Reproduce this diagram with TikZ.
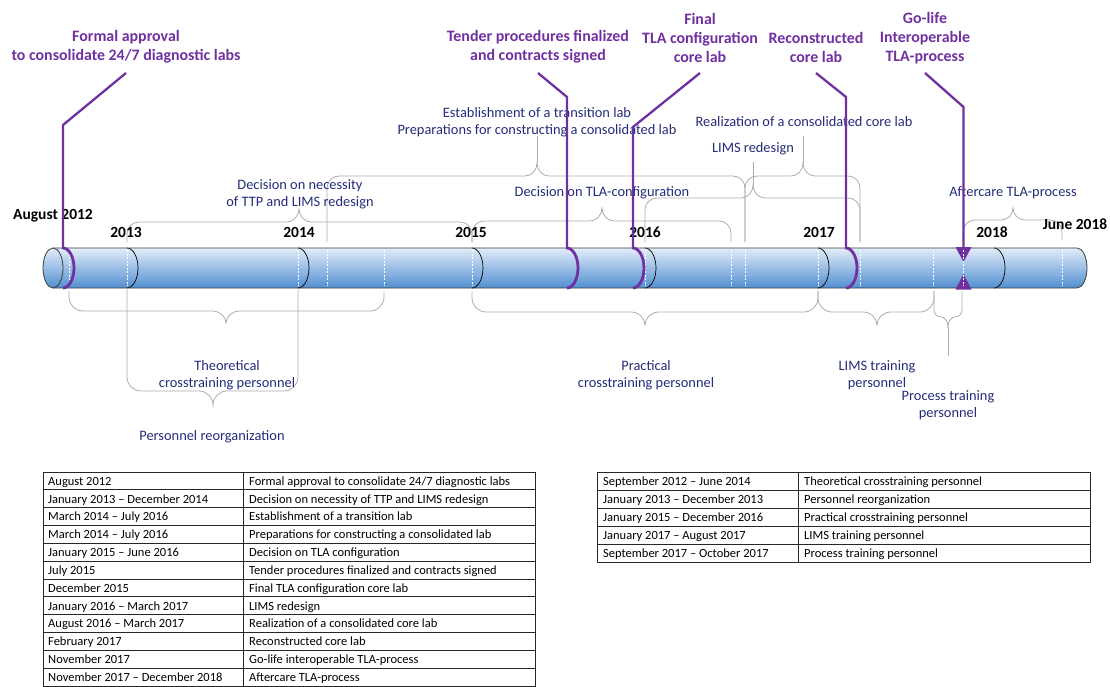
\documentclass[tikz,border=0pt]{standalone}
\usepackage{fontspec}
\setmainfont{Carlito}
\definecolor{purp}{RGB}{112,48,160}
\definecolor{navy}{RGB}{36,44,120}
\definecolor{brgray}{RGB}{172,172,172}
\definecolor{cylTop}{RGB}{226,237,249}
\definecolor{cylMid}{RGB}{122,172,224}
\definecolor{cylBot}{RGB}{82,143,209}
\definecolor{edge}{RGB}{60,60,60}
\newcommand{\gbrace}[8]{%
 \draw[brc] (#1,#4) -- (#1,{#5+(#8)*#7}) .. controls (#1,{#5+(#8)*0.448*#7}) and ({#1+0.448*#7},#5) .. ({#1+#7},#5)
 -- ({#3-#7},#5) .. controls ({#3-0.448*#7},#5) and (#3,{#6+0.552*(#5-#6)}) .. (#3,#6)
 .. controls (#3,{#6+0.552*(#5-#6)}) and ({#3+0.448*#7},#5) .. ({#3+#7},#5)
 -- ({#2-#7},#5) .. controls ({#2-0.448*#7},#5) and (#2,{#5+(#8)*0.448*#7}) .. (#2,{#5+(#8)*#7}) -- (#2,#4);}
\newcommand{\cylarc}[2]{%
 \draw[#2] (#1,248) .. controls ({#1+6},248) and ({#1+11},257) .. ({#1+11},268) .. controls ({#1+11},279) and ({#1+6},288) .. (#1,288);}
\begin{document}
\begin{tikzpicture}[x=1pt,y=-1pt,
 brc/.style={draw=brgray, line width=0.8pt},
 mile/.style={font=\fontsize{15.9}{19}\selectfont\bfseries, text=purp, align=center, inner sep=0pt},
 lab/.style={font=\fontsize{14.4}{17}\selectfont, text=navy, align=center, inner sep=0pt},
 yr/.style={font=\fontsize{15.5}{18}\selectfont\bfseries, text=black, inner sep=0pt},
 pline/.style={draw=purp, line width=2.3pt},
 parc/.style={draw=purp, line width=2.8pt},
 yarc/.style={draw=black, line width=0.7pt},
 wdash/.style={draw=white, line width=0.7pt, dash pattern=on 2pt off 1.5pt},
 tcell/.style={font=\fontsize{12.5}{14}\selectfont, anchor=base west, inner sep=0pt},
 tline/.style={draw=black!85, line width=0.7pt}
]
\useasboundingbox (0,0) rectangle (1110,687);

% ---------- braces above the cylinder ----------
\gbrace{127}{472}{299}{242}{222}{208}{12}{1}
\gbrace{472}{731}{602}{242}{221}{208}{12}{1}
\gbrace{327}{745}{537}{242}{176}{163}{12}{1}
\draw[brc] (537,163) -- (537,136);
\gbrace{745}{860}{803}{242}{176}{163}{12}{1}
\draw[brc] (803,163) -- (803,136);
\gbrace{645}{860}{753}{242}{198}{185}{12}{1}
\draw[brc] (753,185) -- (753,162);
\gbrace{963}{1062}{1013}{240}{220}{208}{12}{1}

% ---------- braces below the cylinder ----------
\gbrace{69}{384}{226}{291}{311}{323}{14}{-1}
\gbrace{127}{298}{213}{290}{391}{405}{14}{-1}
\gbrace{472}{818}{645}{291}{312}{325}{14}{-1}
\gbrace{818}{934}{877}{291}{312}{325}{14}{-1}
\gbrace{934}{962}{948}{291}{317}{327}{7}{-1}
\draw[brc] (948,327) -- (948,356);

% ---------- cylinder ----------
\shade[top color=cylTop, middle color=cylMid, bottom color=cylBot]
 (53,248) -- (1077,248) .. controls (1082.5,248) and (1087,257) .. (1087,268)
 .. controls (1087,279) and (1082.5,288) .. (1077,288) -- (53,288) -- cycle;
\shade[top color=cylTop, middle color=cylMid, bottom color=cylBot]
 (53,268) ellipse [x radius=10pt, y radius=20pt];
\foreach \x in {69,127,298,327,384,472,645,731,745,818,860,933,963,1062}
 \draw[wdash] (\x,250) -- (\x,286);
\foreach \x in {127,298,472,645,818,994} {\cylarc{\x}{yarc}}
\draw[draw=edge, line width=0.8pt] (53,248) -- (1077,248) .. controls (1082.5,248) and (1087,257) .. (1087,268)
 .. controls (1087,279) and (1082.5,288) .. (1077,288) -- (53,288);
\draw[draw=edge, line width=0.8pt] (53,268) ellipse [x radius=10pt, y radius=20pt];

% ---------- year labels ----------
\node[yr] (y12) at (53,216) {August 2012};
\node[yr] (y13) at (126,232) {2013};
\node[yr] (y14) at (299,232) {2014};
\node[yr] (y15) at (471,232) {2015};
\node[yr] (y16) at (645,232) {2016};
\node[yr] (y17) at (819,232) {2017};
\node[yr] (y18) at (992,232) {2018};
\node[yr] (y18b) at (1075,224) {June 2018};

% ---------- navy labels ----------
\node[lab] (l1) at (300,194) {Decision on necessity\\of TTP and LIMS redesign};
\node[lab] (l2) at (602,193) {Decision on TLA-configuration};
\node[lab] (l3) at (537,122) {Establishment of a transition lab\\Preparations for constructing a consolidated lab};
\node[lab] (l4) at (804,122) {Realization of a consolidated core lab};
\node[lab] (l5) at (753,149) {LIMS redesign};
\node[lab] (l6) at (1013,193) {Aftercare TLA-process};
\node[lab] (l7) at (227,375) {Theoretical\\crosstraining personnel};
\node[lab] (l8) at (212,437) {Personnel reorganization};
\node[lab] (l9) at (646,375) {Practical\\crosstraining personnel};
\node[lab] (l10) at (877,375) {LIMS training\\personnel};
\node[lab] (l11) at (948,405) {Process training\\personnel};

% ---------- milestones ----------
\node[mile] (m1) at (126,47) {Formal approval\\to consolidate 24/7 diagnostic labs};
\node[mile] (m2) at (538,47) {Tender procedures finalized\\and contracts signed};
\node[mile] (m3) at (700,38) {Final\\TLA configuration\\core lab};
\node[mile] (m4) at (816,47) {Reconstructed\\core lab};
\node[mile] (m5) at (925,38) {Go-life\\Interoperable\\TLA-process};
\coordinate (p1) at (126,73);
\coordinate (p2) at (538,73);
\coordinate (p3) at (700,73);
\coordinate (p4) at (816,73);
\coordinate (p5) at (925,73);
\coordinate (q1) at (63,249);
\coordinate (q2) at (567,249);
\coordinate (q3) at (633,249);
\coordinate (q4) at (846,249);
\coordinate (q5) at (963.5,249);
\draw[pline] (p1) -- (63,125) -- (q1);
\draw[pline] (p2) -- (567,97) -- (q2);
\draw[pline] (p3) -- (633,127) -- (q3);
\draw[pline] (p4) -- (846,97) -- (q4);
\draw[pline] (p5) -- (963.5,107) -- (q5);
\cylarc{63}{parc}
\cylarc{567}{parc}
\cylarc{633}{parc}
\cylarc{846}{parc}
\fill[purp] (955.5,247) -- (971.5,247) -- (963.5,262) -- cycle;
\fill[purp] (955.5,289.5) -- (971.5,289.5) -- (963.5,274) -- cycle;
\draw[wdash] (963.5,250) -- (963.5,286);

% ---------- table 1 ----------
\draw[tline] (43,472) rectangle (535,686);
\draw[tline] (243,472) -- (243,686);
\foreach \i in {1,...,11} \draw[tline] (43,{472+\i*17.83}) -- (535,{472+\i*17.83});
\foreach \i/\a/\b in {
 1/{August 2012}/{Formal approval to consolidate 24/7 diagnostic labs},
 2/{January 2013 – December 2014}/{Decision on necessity of TTP and LIMS redesign},
 3/{March 2014 – July 2016}/{Establishment of a transition lab},
 4/{March 2014 – July 2016}/{Preparations for constructing a consolidated lab},
 5/{January 2015 – June 2016}/{Decision on TLA configuration},
 6/{July 2015}/{Tender procedures finalized and contracts signed},
 7/{December 2015}/{Final TLA configuration core lab},
 8/{January 2016 – March 2017}/{LIMS redesign},
 9/{August 2016 – March 2017}/{Realization of a consolidated core lab},
 10/{February 2017}/{Reconstructed core lab},
 11/{November 2017}/{Go-life interoperable TLA-process},
 12/{November 2017 – December 2018}/{Aftercare TLA-process}} {
 \node[tcell] (ta\i) at (48,{472+(\i-0.5)*17.83+4.3}) {\a};
 \node[tcell] (tb\i) at (249,{472+(\i-0.5)*17.83+4.3}) {\b};
}

% ---------- table 2 ----------
\draw[tline] (597,472) rectangle (1090,562);
\draw[tline] (798,472) -- (798,562);
\foreach \i in {1,...,4} \draw[tline] (597,{472+\i*18}) -- (1090,{472+\i*18});
\foreach \i/\a/\b in {
 1/{September 2012 – June 2014}/{Theoretical crosstraining personnel},
 2/{January 2013 – December 2013}/{Personnel reorganization},
 3/{January 2015 – December 2016}/{Practical crosstraining personnel},
 4/{January 2017 – August 2017}/{LIMS training personnel},
 5/{September 2017 – October 2017}/{Process training personnel}} {
 \node[tcell] (tc\i) at (603,{472+(\i-0.5)*18+4.3}) {\a};
 \node[tcell] (td\i) at (804,{472+(\i-0.5)*18+4.3}) {\b};
}
\end{tikzpicture}
\end{document}
